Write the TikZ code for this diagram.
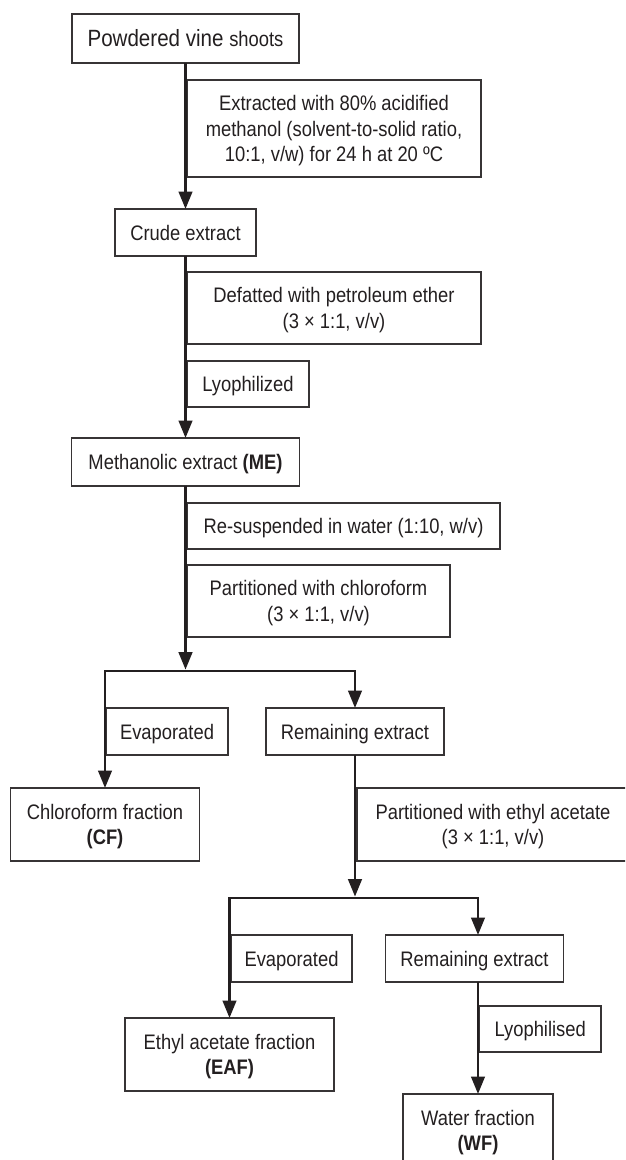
\documentclass[tikz,border=0pt]{standalone}
\usepackage{fontspec}
\setmainfont{Liberation Sans}[FakeStretch=0.875]
\usetikzlibrary{arrows.meta}
\definecolor{ink}{RGB}{35,31,32}
\definecolor{edgec}{RGB}{55,52,53}
\begin{document}
\begin{tikzpicture}[x=1pt,y=-1pt,
  box/.style={draw=edgec, line width=1.15pt, inner sep=0pt, outer sep=0pt, text=ink,
    font=\fontsize{21}{25.5}\selectfont},
  one/.style={text height=15pt, text depth=0pt},
  multi/.style={align=center},
  conn/.style={draw=ink, line width=2.8pt, line join=miter},
  arr/.style={-{Triangle[length=17.5pt,width=13.5pt]}}
]
\fill[white] (0,0) rectangle (625,1160);
\useasboundingbox (0,0) rectangle (625,1160);
\clip (0,0) rectangle (625,1160);

% nodes
\node[box,one,minimum width=227pt,minimum height=49pt,text height=16.8pt] (pvs) at (185.5,38.5)
  {{\fontsize{23.5}{26}\selectfont Powdered vine }shoots};
\node[box,multi,minimum width=294pt,minimum height=97pt] (ext) at (334,128.5)
  {Extracted with 80\% acidified\\methanol (solvent-to-solid ratio,\\\smash{10:1, v/w) for 24 h at 20 ºC}};
\node[box,one,minimum width=141pt,minimum height=47pt] (crude) at (185.5,232.5) {Crude extract};
\node[box,multi,minimum width=294pt,minimum height=72pt] (defat) at (334,308)
  {Defatted with petroleum ether\\\smash{(3 × 1:1, v/v)}};
\node[box,one,minimum width=122pt,minimum height=46pt] (lyo) at (248,384) {Lyophilized};
\node[box,one,minimum width=228pt,minimum height=48pt] (me) at (185.5,462)
  {Methanolic extract \textbf{(ME)}};
\node[box,one,minimum width=313pt,minimum height=46pt] (resus) at (343.5,526)
  {Re-suspended in water (1:10, w/v)};
\node[box,multi,minimum width=263pt,minimum height=72pt] (pcl) at (318.5,601)
  {Partitioned with chloroform\\\smash{(3 × 1:1, v/v)}};
\coordinate (j1) at (185.5,671);
\node[box,one,minimum width=122pt,minimum height=47pt] (evA) at (167,731.5) {Evaporated};
\node[box,one,minimum width=178pt,minimum height=47pt] (remA) at (355,731.5) {Remaining extract};
\node[box,multi,minimum width=189pt,minimum height=73pt] (cf) at (105,824.5)
  {Chloroform fraction\\\smash{\textbf{(CF)}}};
\node[box,multi,minimum width=272pt,minimum height=73pt] (pea) at (493,824.5)
  {Partitioned with ethyl acetate\\\smash{(3 × 1:1, v/v)}};
\coordinate (j2) at (355,898);
\node[box,one,minimum width=121pt,minimum height=47pt] (evB) at (291.5,958.5) {Evaporated};
\node[box,one,minimum width=178pt,minimum height=47pt] (remB) at (474.5,958.5) {Remaining extract};
\node[box,multi,minimum width=209pt,minimum height=73pt] (eaf) at (229.5,1054.5)
  {Ethyl acetate fraction\\\smash{\textbf{(EAF)}}};
\node[box,one,minimum width=121.5pt,minimum height=46pt] (lyoB) at (540.25,1029) {Lyophilised};
\node[box,multi,minimum width=150pt,minimum height=73pt] (wf) at (478,1130.5)
  {Water fraction\\\smash{\textbf{(WF)}}};

% connectors
\draw[conn,arr] (pvs.south) -- (crude.north);
\draw[conn,arr] (crude.south) -- (me.north);
\draw[conn,arr,shorten >=1.4pt] (me.south) -- (j1);
\draw[conn,arr] (j1) -| (cf.north);
\draw[conn,arr] (j1) -| (remA.north);
\draw[conn,arr,shorten >=1.4pt] (remA.south) -- (j2);
\draw[conn,arr] (j2) -| (eaf.north);
\draw[conn,arr] (j2) -| (remB.north -| wf.north);
\draw[conn,arr] (remB.south -| wf.north) -- (wf.north);
\end{tikzpicture}
\end{document}
